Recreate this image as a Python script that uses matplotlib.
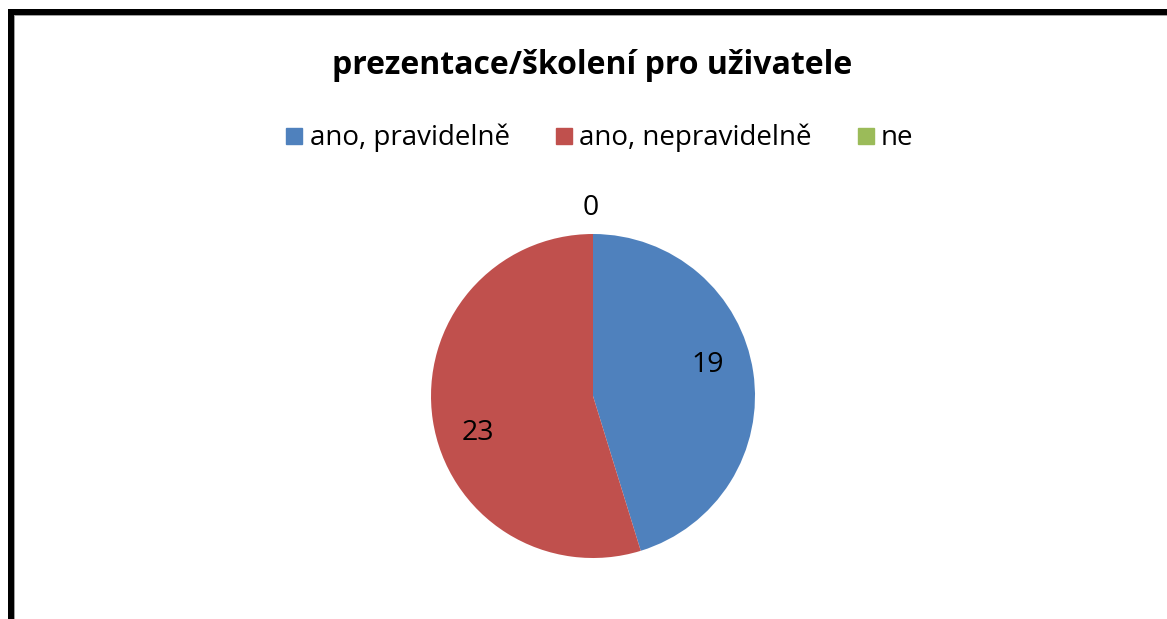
import matplotlib
matplotlib.use("Agg")
import matplotlib.pyplot as plt
from matplotlib.patches import Rectangle
from matplotlib.lines import Line2D

# data
categories = ["ano, pravidelně", "ano, nepravidelně", "ne"]
values = [19, 23, 0]
colors = ["#4F81BD", "#C0504D", "#9BBB59"]
title = "prezentace/školení pro uživatele"

W, H = 1167, 619
plt.rcParams["font.family"] = ["Open Sans", "DejaVu Sans"]

fig = plt.figure(figsize=(W / 100, H / 100), dpi=100)
ax = fig.add_axes([0, 0, 1, 1])

# frame (black border top/left, thin grey inner line)
ax.add_patch(Rectangle((8, -10), 6, H + 10 - 9, color="black", lw=0, zorder=1))
ax.add_patch(Rectangle((8, H - 15), W, 6, color="black", lw=0, zorder=1))
ax.add_patch(Rectangle((14, -10), 1, H - 15 + 10, color="#a0a0a0", lw=0, zorder=1))
ax.add_patch(Rectangle((14, H - 16), W, 1, color="#a0a0a0", lw=0, zorder=1))

total = sum(values)
cx, cy, r = 593, H - 396, 162
wedges, texts, autotexts = ax.pie(
    values, colors=colors, startangle=90, counterclock=False,
    center=(cx, cy), radius=r, frame=True,
    autopct=lambda p: "%d" % round(p * total / 100), pctdistance=0.72,
    textprops=dict(fontsize=20.5, color="black"),
    wedgeprops=dict(linewidth=0),
)
ax.set_xlim(0, W)
ax.set_ylim(0, H)
ax.axis("off")

# shift data labels to roughly where Excel put them
for t, v in zip(autotexts, values):
    x, y = t.get_position()
    if v == 0:
        t.set_position((cx - 2, cy + r * 1.16))
    elif v == 19:
        t.set_position((x - 1, y + 14))
    else:
        t.set_position((x + 0, y - 20))

ax.text(592, H - 65, title, ha="center", va="center", fontsize=23, fontweight="bold")

handles = [Line2D([], [], marker="s", linestyle="none", markersize=11,
                  markerfacecolor=c, markeredgecolor=c) for c in colors]
fig.legend(handles, categories, loc="center", bbox_to_anchor=(599 / W, 1 - 138 / H),
           ncol=3, frameon=False, fontsize=20, handletextpad=0.2, columnspacing=1.6,
           handlelength=0.7)

fig.savefig("out.png", dpi=100)
